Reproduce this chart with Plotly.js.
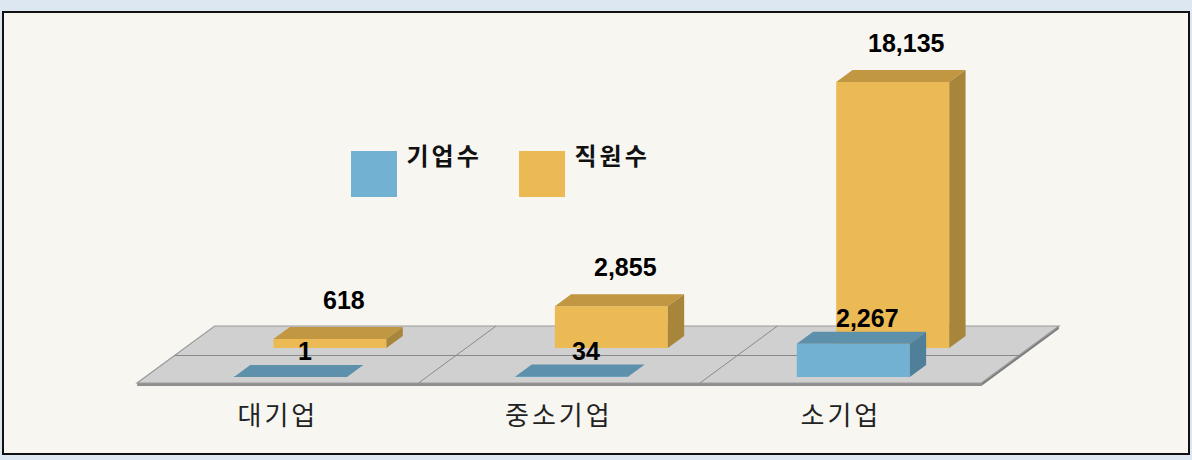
<!DOCTYPE html>
<html><head><meta charset="utf-8">
<script src="https://cdn.plot.ly/plotly-3.0.1.min.js"></script>
<style>html,body{margin:0;padding:0;background:#dde7f2;} #chart{width:1192px;height:460px;}</style>
</head><body><div id="chart"></div>
<script>
// ---- data ----
const categories = ['대기업', '중소기업', '소기업'];
const seriesNames = ['기업수', '직원수'];
const companies = [1, 34, 2267];
const employees = [618, 2855, 18135];

// ---- styles ----
const faceColors = [
  {front: '#72b1d1', top: '#5d90aa', side: '#4f7f99'},
  {front: '#ecba54', top: '#c19742', side: '#a7853a'}
];

// ---- geometry (oblique projection) ----
const W = 1192, H = 460;
const catPx = 281.4, cat0Px = 286;      // px per category, px of first category centre
const valPerPx = 68.2, base0Px = 377;   // value units per px, px row of value 0 (front row)
const slope = 1.36;                     // horizontal px per px of depth
const barWidthPx = 113, barShiftPx = 4.5, barDepthPx = 12;
const rowDepthPx = [0, 29];             // series 0 front row, series 1 back row
const labelYShift = [14, 27];
const floorFront = -6, floorMid = 21.5, floorBack = 51, slabPx = 3;

const xRange = [-cat0Px / catPx, (W - cat0Px) / catPx];
const yRange = [-(H - base0Px) * valPerPx, base0Px * valPerPx];
function P(xc, z, v) { return [xc + z * slope / catPx, v + z * valPerPx]; }

const seriesValues = [companies, employees];
const traces = [];
const tops = [], sides = [];
const annotations = [];
const bw = barWidthPx / catPx, bs = barShiftPx / catPx;

// draw back row first
[1, 0].forEach(s => {
  const z0 = rowDepthPx[s], z1 = z0 + barDepthPx;
  const vals = seriesValues[s];
  traces.push({
    type: 'bar', name: seriesNames[s], showlegend: false,
    x: categories.map((c, i) => P(i + bs, z0, 0)[0]),
    y: vals, base: vals.map(() => z0 * valPerPx), width: bw,
    marker: {color: faceColors[s].front, line: {width: 0}},
    hovertemplate: seriesNames[s] + ' %{customdata}: %{y:,}<extra></extra>',
    customdata: categories
  });
  const top = {x: [], y: []}, side = {x: [], y: []};
  vals.forEach((v, i) => {
    const xl = i + bs - bw / 2, xr = i + bs + bw / 2;
    [P(xl, z0, v), P(xr, z0, v), P(xr, z1, v), P(xl, z1, v), P(xl, z0, v)].forEach(p => { top.x.push(p[0]); top.y.push(p[1]); });
    top.x.push(null); top.y.push(null);
    [P(xr, z0, 0), P(xr, z1, 0), P(xr, z1, v), P(xr, z0, v), P(xr, z0, 0)].forEach(p => { side.x.push(p[0]); side.y.push(p[1]); });
    side.x.push(null); side.y.push(null);
    const lp = P(i + bs, z0 + barDepthPx / 2, v);
    annotations.push({
      x: lp[0], y: P(i, z1, v)[1], xref: 'x', yref: 'y', showarrow: false,
      text: v.toLocaleString('en-US'), xshift: 6, yshift: labelYShift[s],
      font: {family: 'Liberation Sans, Arial, sans-serif', size: 25, color: '#000', weight: 'bold'},
      xanchor: 'center', yanchor: 'middle'
    });
  });
  tops.push({type: 'scatter', mode: 'lines', x: top.x, y: top.y, fill: 'toself', fillcolor: faceColors[s].top, line: {width: 0}, hoverinfo: 'skip', showlegend: false});
  sides.push({type: 'scatter', mode: 'lines', x: side.x, y: side.y, fill: 'toself', fillcolor: faceColors[s].side, line: {width: 0}, hoverinfo: 'skip', showlegend: false});
});
// scatter faces: back row faces then front row faces
traces.push(tops[0], sides[0], tops[1], sides[1]);

// ---- floor ----
function path(pts) { return 'M ' + pts.map(p => p[0] + ',' + p[1]).join(' L ') + ' Z'; }
function line(pts) { return 'M ' + pts.map(p => p[0] + ',' + p[1]).join(' L '); }
const n = categories.length;
const L = -0.5, R = n - 0.5, slab = slabPx * valPerPx;
const shapes = [
  {type: 'rect', xref: 'paper', yref: 'paper', x0: 3 / W, x1: 1189 / W, y0: 1 - 454 / H, y1: 1 - 12 / H,
   fillcolor: '#f7f6f1', line: {color: '#111', width: 2}, layer: 'below'},
  {type: 'path', xref: 'x', yref: 'y', layer: 'below', fillcolor: '#8f8f8f', line: {width: 0},
   path: path([P(L, floorFront, 0), P(R, floorFront, 0), P(R, floorFront, -slab), P(L, floorFront, -slab)])},
  {type: 'path', xref: 'x', yref: 'y', layer: 'below', fillcolor: '#7d7d7d', line: {width: 0},
   path: path([P(R, floorFront, 0), P(R, floorBack, 0), P(R, floorBack, -slab), P(R, floorFront, -slab)])},
  {type: 'path', xref: 'x', yref: 'y', layer: 'below', fillcolor: '#d0d0d0', line: {color: '#9a9a9a', width: 1.2},
   path: path([P(L, floorFront, 0), P(R, floorFront, 0), P(R, floorBack, 0), P(L, floorBack, 0)])},
  {type: 'path', xref: 'x', yref: 'y', layer: 'below', line: {color: '#8a8a8a', width: 1.2},
   path: line([P(L, floorMid, 0), P(R, floorMid, 0)])}
];
for (let i = 1; i < n; i++) {
  shapes.push({type: 'path', xref: 'x', yref: 'y', layer: 'below', line: {color: '#8a8a8a', width: 1},
    path: line([P(i - 0.5, floorFront, 0), P(i - 0.5, floorBack, 0)])});
}

// category labels
categories.forEach((c, i) => {
  annotations.push({x: P(i, floorFront, 0)[0], y: (base0Px - 413) * valPerPx, xref: 'x', yref: 'y',
    showarrow: false, text: c, xanchor: 'center', yanchor: 'middle', name: 'spaced',
    font: {family: 'Noto Sans CJK KR, sans-serif', size: 26, color: '#222'}});
});

// legend
const legendX = [351, 519], legendY = 151, legendSize = 46;
seriesNames.forEach((nm, s) => {
  shapes.push({type: 'rect', xref: 'paper', yref: 'paper', layer: 'above',
    x0: legendX[s] / W, x1: (legendX[s] + legendSize) / W, y0: 1 - (legendY + legendSize) / H, y1: 1 - legendY / H,
    fillcolor: faceColors[s].front, line: {width: 0}});
  annotations.push({xref: 'paper', yref: 'paper', x: (legendX[s] + legendSize + 12) / W, y: 1 - 155 / H,
    xanchor: 'left', yanchor: 'middle', showarrow: false, text: nm, name: 'spaced',
    font: {family: 'Noto Sans CJK KR, sans-serif', size: 24, color: '#111', weight: 'bold'}});
});

const layout = {
  width: W, height: H, margin: {l: 0, r: 0, t: 0, b: 0, pad: 0},
  paper_bgcolor: '#dde7f2', plot_bgcolor: 'rgba(0,0,0,0)',
  xaxis: {range: xRange, visible: false, fixedrange: true},
  yaxis: {range: yRange, visible: false, fixedrange: true},
  barmode: 'overlay', showlegend: false,
  shapes: shapes, annotations: annotations
};
Plotly.newPlot('chart', traces, layout, {displayModeBar: false}).then(gd => {
  // wider letter spacing for the Korean labels
  const spaced = new Set(categories.concat(seriesNames));
  gd.querySelectorAll('text.annotation-text').forEach(t => {
    if (spaced.has(t.textContent)) t.setAttribute('letter-spacing', '3px');
  });
});
</script></body></html>
